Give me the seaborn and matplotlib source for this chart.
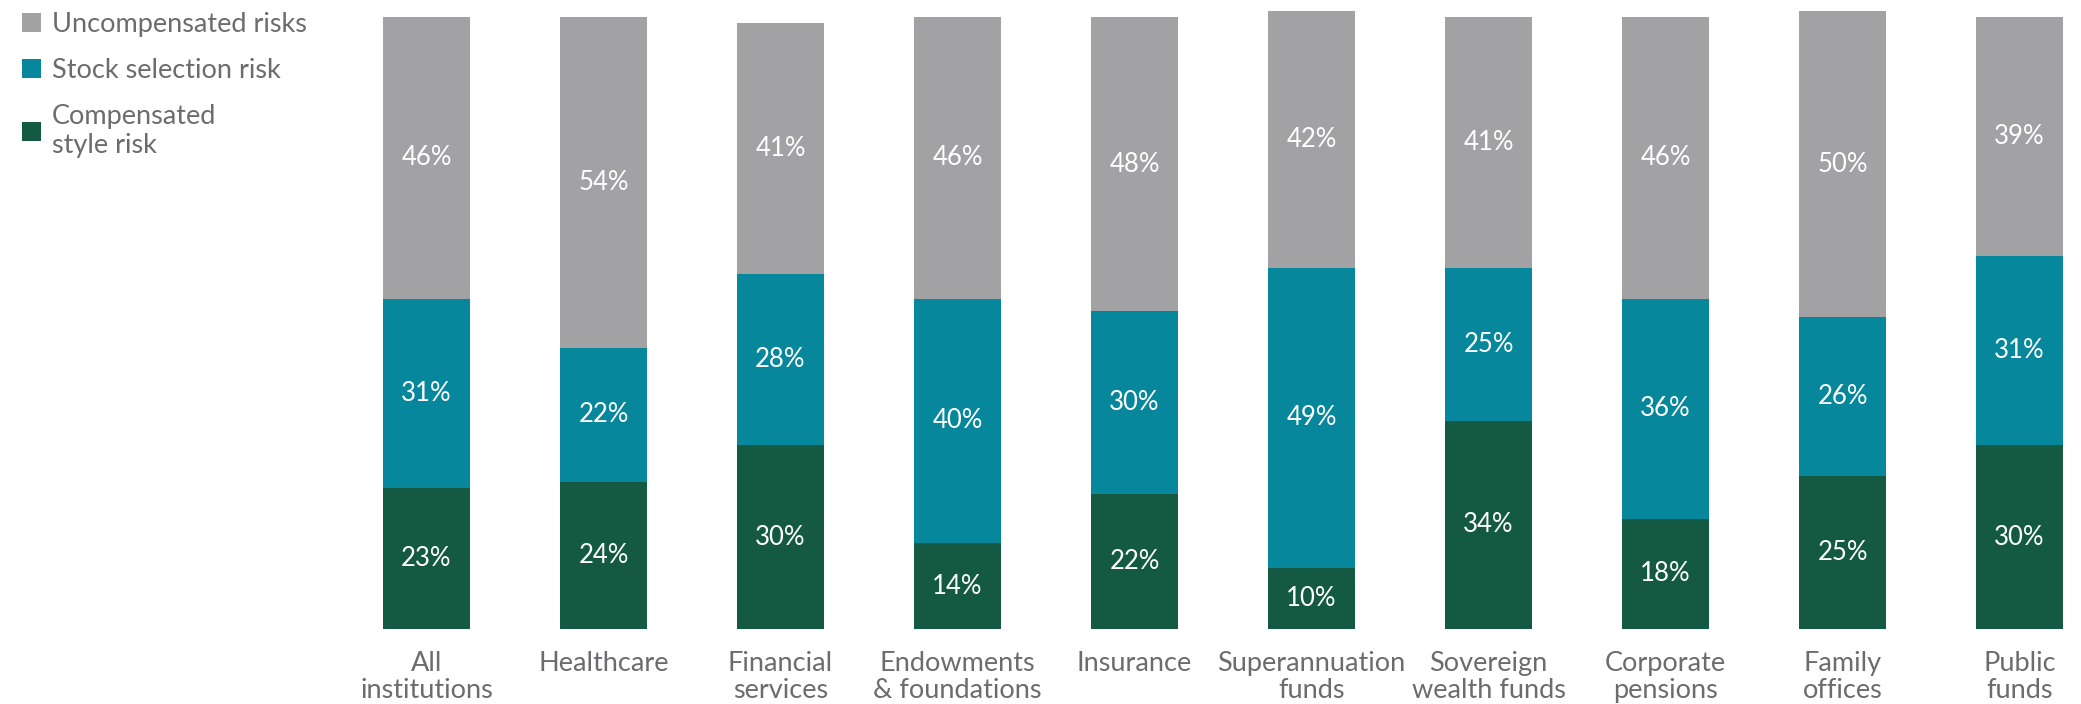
import matplotlib
matplotlib.use("Agg")
import matplotlib.pyplot as plt
from matplotlib.patches import Patch
import numpy as np
import pandas as pd
import seaborn as sns

categories = ["All\ninstitutions", "Healthcare", "Financial\nservices",
              "Endowments\n& foundations", "Insurance", "Superannuation\nfunds",
              "Sovereign\nwealth funds", "Corporate\npensions", "Family\noffices",
              "Public\nfunds"]
compensated_style = [23, 24, 30, 14, 22, 10, 34, 18, 25, 30]
stock_selection = [31, 22, 28, 40, 30, 49, 25, 36, 26, 31]
uncompensated = [46, 54, 41, 46, 48, 42, 41, 46, 50, 39]

series_names = ["Uncompensated risks", "Stock selection risk", "Compensated\nstyle risk"]
colors = {"Uncompensated risks": "#a2a2a4",
          "Stock selection risk": "#07879b",
          "Compensated\nstyle risk": "#145942"}
text_grey = "#6b6c70"

sns.set_theme(style="white")
plt.rcParams["font.family"] = ["Lato", "DejaVu Sans"]

df = pd.DataFrame({"category": categories,
                   "green": compensated_style,
                   "teal": stock_selection,
                   "grey": uncompensated})
df["lvl1"] = df["green"]
df["lvl2"] = df["green"] + df["teal"]
df["lvl3"] = df["lvl2"] + df["grey"]

W, H = 2081, 704
fig = plt.figure(figsize=(W / 100, H / 100), dpi=100)
spacing = 177.0
left_px, bottom_px, top_px = 338.0, 75.0, 5.0
ax = fig.add_axes([left_px / W, bottom_px / H, (W - left_px) / W, (H - bottom_px - top_px) / H])

bar_w = 87 / spacing
# stacked bars drawn from the cumulative totals, tallest first
for col, name in [("lvl3", series_names[0]), ("lvl2", series_names[1]), ("lvl1", series_names[2])]:
    sns.barplot(data=df, x="category", y=col, color=colors[name], width=bar_w,
                saturation=1, ax=ax, linewidth=0, errorbar=None)

ax.set_xlim(-0.5, -0.5 + (W - left_px) / spacing)
ax.set_ylim(0, 102)
ax.set_xlabel("")
ax.set_ylabel("")
ax.set_yticks([])
sns.despine(ax=ax, left=True, bottom=True)
ax.tick_params(axis="x", length=0, pad=16, labelsize=19.5, colors=text_grey)
ax.set_xticks(range(len(categories)))
ax.set_xticklabels(categories, linespacing=1.08)

for i in range(len(categories)):
    g, t, u = compensated_style[i], stock_selection[i], uncompensated[i]
    for base, v in [(0, g), (g, t), (g + t, u)]:
        ax.text(i, base + v / 2, f"{v}%", ha="center", va="center",
                color="white", fontsize=18.5)

handles = [Patch(facecolor=colors[n], edgecolor="none", label=n) for n in series_names]
leg = fig.legend(handles=handles, loc="upper left", bbox_to_anchor=(0.003, 1.006),
                 frameon=False, fontsize=19.5, handlelength=0.68, handleheight=0.68,
                 handletextpad=0.4, labelspacing=0.78, borderaxespad=0.2)
for txt in leg.get_texts():
    txt.set_color(text_grey)
    txt.set_linespacing(1.2)

fig.savefig("out.png", dpi=100, facecolor="white")
